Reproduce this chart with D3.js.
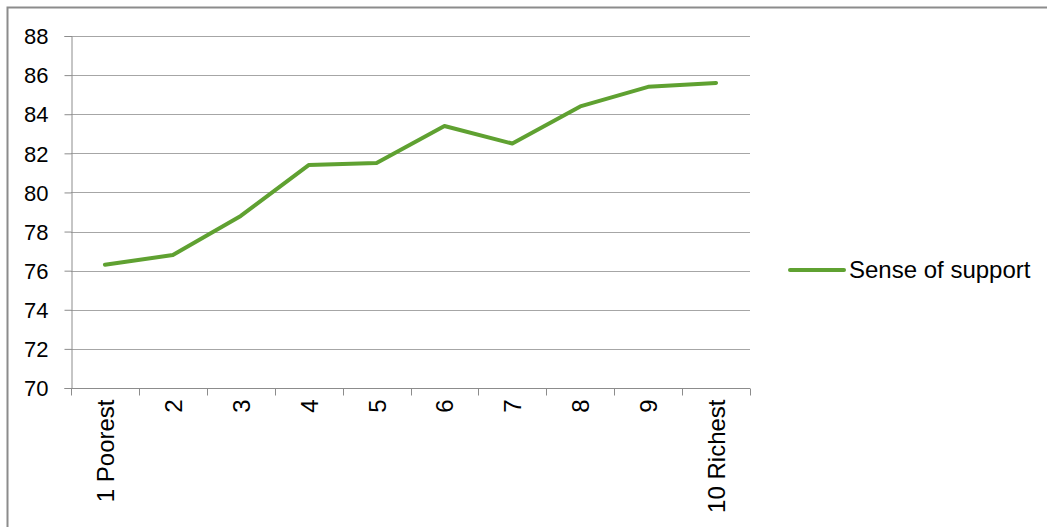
<!DOCTYPE html>
<html>
<head>
<meta charset="utf-8">
<script src="https://cdn.jsdelivr.net/npm/d3@7"></script>
<style>
html,body{margin:0;padding:0;background:#fff;}
svg{display:block;}
text{font-family:"Liberation Sans",Arial,sans-serif;fill:#000;}
</style>
</head>
<body>
<script>
const categories = ["1 Poorest","2","3","4","5","6","7","8","9","10 Richest"];
const seriesName = "Sense of support";
const values = [76.3, 76.8, 78.8, 81.4, 81.5, 83.4, 82.5, 84.4, 85.4, 85.6];
const yTicks = [70,72,74,76,78,80,82,84,86,88];

(function(){
const W = 1047, H = 527;
const svg = d3.select("body").append("svg").attr("width", W).attr("height", H);

// outer chart border (cropped at right/bottom)
svg.append("rect").attr("x",7.5).attr("y",7.5).attr("width",W+20).attr("height",H+20)
  .attr("fill","#fff").attr("stroke","#8c8c8c").attr("stroke-width",2);

const pL = 71, pR = 750, pT = 36, pB = 388;
const x = d3.scaleBand().domain(categories).range([pL, pR]);
const y = d3.scaleLinear().domain([70, 88]).range([pB, pT]);

// gridlines
svg.append("g").selectAll("line").data(yTicks.filter(d=>d!==70)).join("line")
  .attr("x1", pL).attr("x2", pR)
  .attr("y1", d=>Math.round(y(d))+0.5).attr("y2", d=>Math.round(y(d))+0.5)
  .attr("stroke","#a6a6a6").attr("stroke-width",1);

// y axis
const yAxis = svg.append("g").attr("transform",`translate(${pL+0.5},0)`)
  .call(d3.axisLeft(y).tickValues(yTicks).tickSize(7).tickPadding(16).tickFormat(d3.format("d")));
yAxis.select(".domain").attr("stroke","#8c8c8c");
yAxis.selectAll(".tick line").attr("stroke","#8c8c8c");
yAxis.selectAll("text").style("font-size","22px").attr("fill","#000").attr("dy","0.35em");

// x axis
const xAxis = svg.append("g").attr("transform",`translate(0,${pB+0.5})`);
xAxis.append("line").attr("x1",pL).attr("x2",pR).attr("stroke","#8c8c8c");
const bounds = categories.map(c=>x(c)).concat([pR]);
xAxis.selectAll("line.tk").data(bounds).join("line").attr("class","tk")
  .attr("x1",d=>Math.round(d)+0.5).attr("x2",d=>Math.round(d)+0.5)
  .attr("y1",0).attr("y2",7).attr("stroke","#8c8c8c");
xAxis.selectAll("text").data(categories).join("text")
  .attr("transform", d=>`translate(${x(d)+x.bandwidth()/2+9},11) rotate(-90)`)
  .attr("text-anchor","end")
  .style("font-size","24px")
  .text(d=>d);

// line
const line = d3.line().x((d,i)=>x(categories[i])+x.bandwidth()/2).y(d=>y(d));
svg.append("path").datum(values).attr("d",line)
  .attr("fill","none").attr("stroke","#5fa131").attr("stroke-width",4)
  .attr("stroke-linejoin","round").attr("stroke-linecap","round");

// legend
const lg = svg.append("g").attr("transform","translate(790,270)");
lg.append("line").attr("x1",0).attr("x2",54).attr("y1",0).attr("y2",0)
  .attr("stroke","#5fa131").attr("stroke-width",4).attr("stroke-linecap","round");
lg.append("text").attr("x",59).attr("y",8).style("font-size","24px").text(seriesName);
})();
</script>
</body>
</html>
